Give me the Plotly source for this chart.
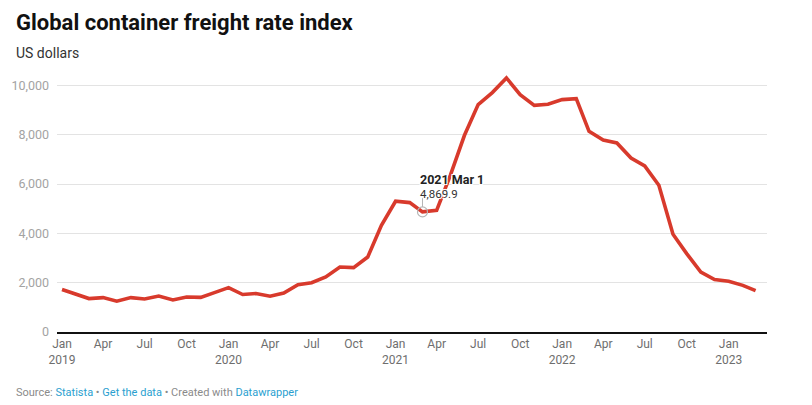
import plotly.graph_objects as go
import pandas as pd

# ---- data ----
dates = pd.date_range("2019-01-01", "2023-03-01", freq="MS")
values = [
    1720, 1520, 1355, 1395, 1250, 1395, 1340, 1460, 1300, 1420, 1405, 1595,   # 2019
    1800, 1520, 1560, 1450, 1580, 1920, 2000, 2230, 2635, 2610, 3040, 4325,   # 2020
    5300, 5245, 4869.9, 4930, 6350, 7975, 9220, 9705, 10300, 9625, 9190, 9230,  # 2021
    9420, 9460, 8135, 7780, 7665, 7050, 6730, 5950, 3960, 3180, 2430, 2125,   # 2022
    2055, 1890, 1680,                                                         # 2023
]
tick_dates = pd.date_range("2019-01-01", "2023-01-01", freq="QS")
tick_text = [("Jan<br>%d" % d.year) if d.month == 1 else d.strftime("%b") for d in tick_dates]
y_ticks = [0, 2000, 4000, 6000, 8000, 10000]
highlight_idx = 26  # 2021 Mar 1

title = "Global container freight rate index"
subtitle = "US dollars"

W, H = 812, 405
L, R, T, B = 57, 45, 73, 73
PW, PH = W - L - R, H - T - B

def px(x):
    return (x - L) / PW

def py(y):
    return (H - B - y) / PH

FONT = "Roboto, 'Open Sans', sans-serif"

fig = go.Figure()
fig.add_trace(go.Scatter(
    x=dates, y=values, mode="lines",
    line=dict(color="#d83a2c", width=3.6),
    hoverinfo="skip",
))
hd = dates[highlight_idx]
hv = values[highlight_idx]
fig.add_trace(go.Scatter(
    x=[hd], y=[hv], mode="markers",
    marker=dict(symbol="circle-open", size=10, color="#b5b5b5", line=dict(width=1.2, color="#b5b5b5")),
    hoverinfo="skip",
))
fig.add_shape(type="line", xref="x", yref="y", x0=hd, x1=hd,
              ysizemode="pixel", yanchor=hv, y0=5, y1=14,
              line=dict(color="#b5b5b5", width=1))

shadow = "-1px -1px 0 #fff, 1px -1px 0 #fff, -1px 1px 0 #fff, 1px 1px 0 #fff, 0 0 2px #fff"
fig.add_annotation(x=hd, y=hv, xref="x", yref="y", showarrow=False,
                   text="<b>%d %s %d</b>" % (hd.year, hd.strftime("%b"), hd.day),
                   xanchor="left", yanchor="middle", xshift=-4, yshift=32,
                   font=dict(family=FONT, size=12.5, color="#222", shadow=shadow))
fig.add_annotation(x=hd, y=hv, xref="x", yref="y", showarrow=False,
                   text=f"{hv:,.1f}",
                   xanchor="left", yanchor="middle", xshift=-4, yshift=18,
                   font=dict(family=FONT, size=11.5, color="#333", shadow=shadow))

# title, subtitle, footer
fig.add_annotation(xref="paper", yref="paper", x=px(14), y=py(23), showarrow=False,
                   text="<b>%s</b>" % title, xanchor="left", yanchor="middle",
                   font=dict(family=FONT, size=22, color="#111"))
fig.add_annotation(xref="paper", yref="paper", x=px(14), y=py(53), showarrow=False,
                   text=subtitle, xanchor="left", yanchor="middle",
                   font=dict(family=FONT, size=14, color="#333"))
link = "#2a9fd0"
footer = ("Source: <span style='color:%s'>Statista</span> • <span style='color:%s'>Get the data</span>"
          " • Created with <span style='color:%s'>Datawrapper</span>") % (link, link, link)
fig.add_annotation(xref="paper", yref="paper", x=px(14), y=py(392.5), showarrow=False,
                   text=footer, xanchor="left", yanchor="middle",
                   font=dict(family=FONT, size=11, color="#8a8a8a"))

fig.update_layout(
    width=W, height=H,
    margin=dict(l=L, r=R, t=T, b=B, pad=0),
    paper_bgcolor="white", plot_bgcolor="white",
    showlegend=False,
    font=dict(family=FONT),
    xaxis=dict(
        range=["2018-12-21", "2023-03-26"],
        tickvals=list(tick_dates), ticktext=tick_text,
        showgrid=False, zeroline=False, ticks="",
        showline=True, linecolor="#111", linewidth=1.5,
        tickfont=dict(family=FONT, size=12, color="#6e6e6e"),
    ),
    yaxis=dict(
        range=[0, 10500],
        tickvals=y_ticks, tickformat=",d",
        showgrid=True, gridcolor="#e3e3e3", gridwidth=1,
        zeroline=False, showline=False, ticks="",
        ticklabelstandoff=7,
        tickfont=dict(family=FONT, size=12.5, color="#a3a3a3"),
    ),
)

fig.write_html("out.html", config={"displayModeBar": False},
               post_script="document.body.style.margin='0';document.body.style.overflow='hidden';")
